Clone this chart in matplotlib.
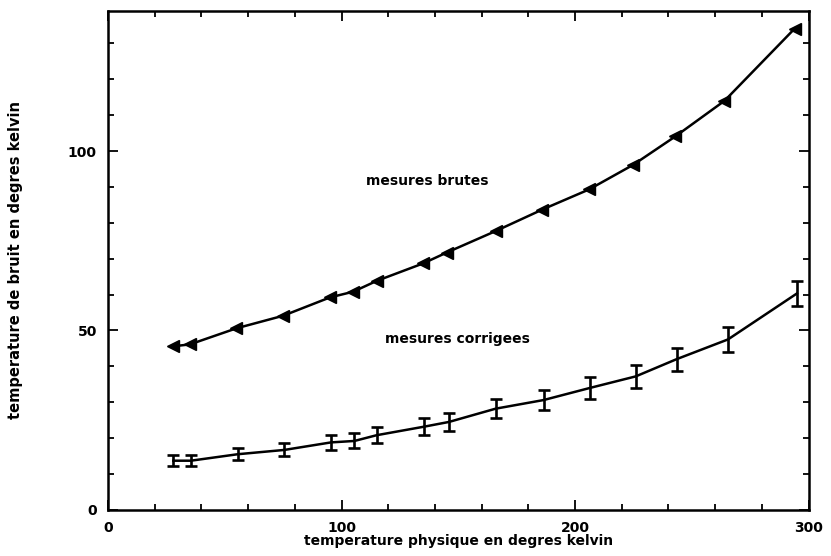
import matplotlib
matplotlib.use("Agg")
import matplotlib.pyplot as plt
from matplotlib.ticker import MultipleLocator

# Physical temperature (K)
temp_brutes = [28, 35, 55, 75, 95, 105, 115, 135, 145, 166, 186, 206, 225, 243, 264, 294]
noise_brutes = [45.6, 46.1, 50.6, 54.1, 59.2, 60.8, 63.8, 68.7, 71.7, 77.7, 83.7, 89.3, 96.2, 104.1, 114.0, 134.1]

temp_corr = [28, 35.5, 55.5, 75.5, 95.5, 105.5, 115, 135.5, 146, 166, 186.5, 206.5, 226, 243.5, 265.5, 295]
noise_corr = [13.7, 13.7, 15.5, 16.7, 18.8, 19.2, 20.8, 23.2, 24.5, 28.2, 30.6, 34.0, 37.2, 42.0, 47.5, 60.3]
err_corr = [1.5, 1.5, 1.7, 1.8, 2.0, 2.1, 2.2, 2.3, 2.4, 2.6, 2.7, 3.0, 3.1, 3.2, 3.4, 3.6]

xlabel = "temperature physique en degres kelvin"
ylabel = "temperature de bruit en degres kelvin"
label_brutes = "mesures brutes"
label_corr = "mesures corrigees"

plt.rcParams['font.family'] = ['DejaVu Sans']
fig = plt.figure(figsize=(8.31, 5.56), dpi=100)
ax = fig.add_axes([0.130, 0.083, 0.843, 0.897])

ax.plot(temp_brutes, noise_brutes, color='black', lw=1.8, marker='<',
        markersize=8, markerfacecolor='black', markeredgecolor='black')
ax.errorbar(temp_corr, noise_corr, yerr=err_corr, color='black', lw=1.8,
            elinewidth=1.9, capsize=4.5, capthick=1.9, fmt='-')

ax.text(110.5, 91.7, label_brutes, fontsize=10, fontweight='bold', va='center', ha='left')
ax.text(118.5, 47.5, label_corr, fontsize=10, fontweight='bold', va='center', ha='left')

ax.set_xlim(0, 300)
ax.set_ylim(0, 139)
ax.xaxis.set_major_locator(MultipleLocator(100))
ax.xaxis.set_minor_locator(MultipleLocator(20))
ax.yaxis.set_major_locator(MultipleLocator(50))
ax.yaxis.set_minor_locator(MultipleLocator(10))
ax.tick_params(which='both', direction='in', top=True, right=True, width=1.3)
ax.tick_params(which='major', length=7, labelsize=10, pad=8)
ax.tick_params(which='minor', length=4)
for lab in ax.get_xticklabels() + ax.get_yticklabels():
    lab.set_fontweight('bold')
for s in ax.spines.values():
    s.set_linewidth(1.8)

ax.set_xlabel(xlabel, fontsize=10, fontweight='bold', labelpad=-1)
ax.set_ylabel(ylabel, fontsize=10.5, fontweight='bold', labelpad=32)

fig.savefig("out.png", dpi=100)
